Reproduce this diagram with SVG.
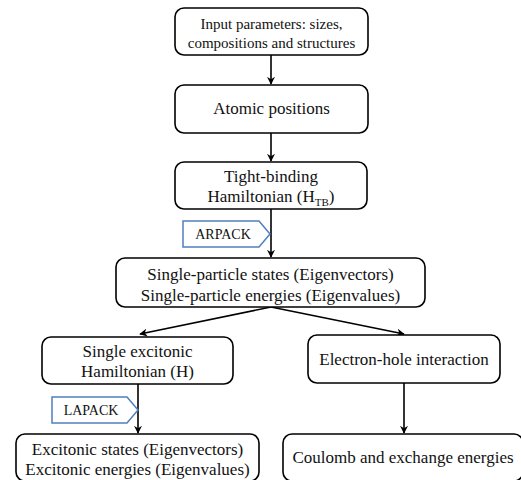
<svg xmlns="http://www.w3.org/2000/svg" width="521" height="480" viewBox="0 0 521 480">
<style>
.box{fill:#fff;stroke:#000;stroke-width:1.6}
.tag{fill:#fff;stroke:#4f7fbd;stroke-width:1.5}
.edge{stroke:#000;stroke-width:1.6;fill:none;marker-end:url(#ah)}
</style>
<defs>
<marker id="ah" viewBox="0 0 10 10" refX="9" refY="5" markerWidth="8" markerHeight="8" markerUnits="userSpaceOnUse" orient="auto">
<path d="M0,0 L10,5 L0,10 L3,5 Z" fill="#000"/>
</marker>
</defs>
<rect width="521" height="480" fill="#fff"/>
<g id="connectors">
<line class="edge" x1="271" y1="55" x2="271" y2="84"/>
<line class="edge" x1="271" y1="133" x2="271" y2="161"/>
<line class="edge" x1="271" y1="209" x2="271" y2="257"/>
<line class="edge" x1="271" y1="307" x2="140" y2="334"/>
<line class="edge" x1="271" y1="307" x2="404" y2="334"/>
<line class="edge" x1="138" y1="384" x2="138" y2="433"/>
<line class="edge" x1="404" y1="383" x2="404" y2="433"/>
</g>
<g id="n1">
<rect class="box" x="175" y="8" width="193" height="47" rx="9"/>
<text font-family="'Liberation Serif', serif" font-size="15" fill="#111" text-anchor="middle" x="271.5" y="29">Input parameters: sizes,</text>
<text font-family="'Liberation Serif', serif" font-size="15" fill="#111" text-anchor="middle" x="271.5" y="48">compositions and structures</text>
</g>
<g id="n2">
<rect class="box" x="175" y="85" width="193" height="48" rx="9"/>
<text font-family="'Liberation Serif', serif" font-size="17" fill="#111" text-anchor="middle" x="271.5" y="114">Atomic positions</text>
</g>
<g id="n3">
<rect class="box" x="175" y="162" width="192" height="47" rx="9"/>
<text font-family="'Liberation Serif', serif" font-size="17" fill="#111" text-anchor="middle" x="271" y="182">Tight-binding</text>
<text font-family="'Liberation Serif', serif" font-size="17" fill="#111" text-anchor="middle" x="271" y="202">Hamiltonian (H<tspan font-size="11" dy="4">TB</tspan><tspan dy="-4">)</tspan></text>
</g>
<g id="arpack">
<polygon class="tag" points="183,221 259,221 270,234 259,247 183,247"/>
<text font-family="'Liberation Serif', serif" font-size="14" fill="#111" text-anchor="middle" x="223" y="239">ARPACK</text>
</g>
<g id="n4">
<rect class="box" x="116" y="258" width="309" height="49" rx="9"/>
<text font-family="'Liberation Serif', serif" font-size="17" fill="#111" text-anchor="middle" x="270.5" y="280">Single-particle states (Eigenvectors)</text>
<text font-family="'Liberation Serif', serif" font-size="17" fill="#111" text-anchor="middle" x="270.5" y="301">Single-particle energies (Eigenvalues)</text>
</g>
<g id="n5">
<rect class="box" x="42" y="337" width="191" height="47" rx="9"/>
<text font-family="'Liberation Serif', serif" font-size="17" fill="#111" text-anchor="middle" x="137.5" y="357">Single excitonic</text>
<text font-family="'Liberation Serif', serif" font-size="17" fill="#111" text-anchor="middle" x="137.5" y="377">Hamiltonian (H)</text>
</g>
<g id="lapack">
<polygon class="tag" points="52,397 127,397 138,410 127,423 52,423"/>
<text font-family="'Liberation Serif', serif" font-size="14" fill="#111" text-anchor="middle" x="91" y="415">LAPACK</text>
</g>
<g id="n6">
<rect class="box" x="16" y="434" width="243" height="47" rx="9"/>
<text font-family="'Liberation Serif', serif" font-size="17" fill="#111" text-anchor="middle" x="137.5" y="455">Excitonic states (Eigenvectors)</text>
<text font-family="'Liberation Serif', serif" font-size="17" fill="#111" text-anchor="middle" x="137.5" y="475">Excitonic energies (Eigenvalues)</text>
</g>
<g id="n7">
<rect class="box" x="308" y="335" width="192" height="48" rx="9"/>
<text font-family="'Liberation Serif', serif" font-size="17" fill="#111" text-anchor="middle" x="404" y="365">Electron-hole interaction</text>
</g>
<g id="n8">
<rect class="box" x="283" y="434" width="240" height="47" rx="9"/>
<text font-family="'Liberation Serif', serif" font-size="17" fill="#111" text-anchor="middle" x="403" y="463">Coulomb and exchange energies</text>
</g>
</svg>
